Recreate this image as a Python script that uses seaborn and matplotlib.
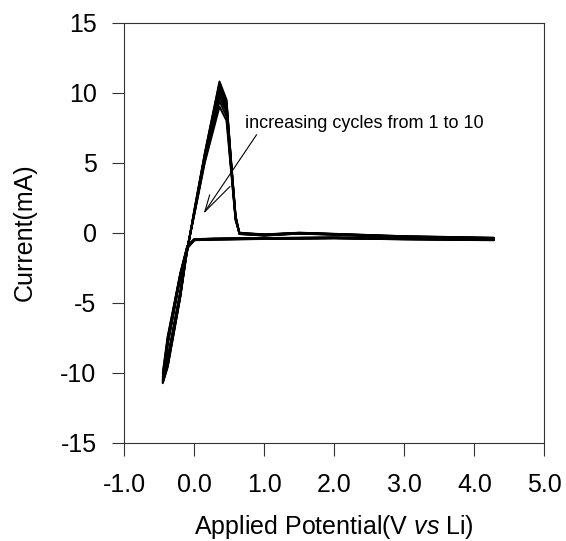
import pandas as pd
import matplotlib
matplotlib.use('Agg')
import matplotlib.pyplot as plt
import seaborn as sns

# Potential sweep (V vs Li): cathodic run 4.28 -> -0.45, then anodic run back to 4.28
potential_cathodic = [4.28, 3.0, 2.0, 1.0, 0.3, 0.0, -0.1, -0.2, -0.3, -0.38, -0.45]
potential_anodic = [-0.38, -0.3, -0.2, -0.12, 0.0, 0.15, 0.36, 0.46, 0.525, 0.59, 0.645, 1.0, 1.5, 2.0, 3.0, 4.28]

current_cathodic = {
    1: [-0.45, -0.40, -0.34, -0.38, -0.42, -0.46, -0.95, -2.9, -5.4, -7.4, -10.0],
    2: [-0.46, -0.41, -0.35, -0.39, -0.43, -0.47, -0.97, -2.9, -5.5, -7.5, -10.1],
    3: [-0.47, -0.41, -0.35, -0.39, -0.43, -0.47, -0.98, -3.0, -5.5, -7.6, -10.3],
    4: [-0.48, -0.42, -0.36, -0.40, -0.44, -0.48, -1.0, -3.0, -5.6, -7.7, -10.4],
    5: [-0.49, -0.43, -0.37, -0.41, -0.45, -0.49, -1.0, -3.0, -5.6, -7.7, -10.5],
    6: [-0.50, -0.44, -0.38, -0.42, -0.46, -0.50, -1.05, -3.1, -5.7, -7.8, -10.55],
    7: [-0.51, -0.45, -0.38, -0.43, -0.47, -0.51, -1.05, -3.1, -5.7, -7.8, -10.6],
    8: [-0.52, -0.46, -0.39, -0.43, -0.48, -0.52, -1.1, -3.1, -5.8, -7.9, -10.65],
    9: [-0.53, -0.47, -0.40, -0.44, -0.49, -0.53, -1.1, -3.2, -5.8, -7.9, -10.7],
    10: [-0.54, -0.48, -0.40, -0.45, -0.50, -0.54, -1.1, -3.2, -5.9, -8.0, -10.75],
}

# Current (mA), anodic part
current_anodic = {
    1: [-8.9, -6.8, -4.2, -1.6, 1.3, 5.0, 9.0, 8.0, 4.4, 0.9, 0.0, -0.12, 0.0, -0.08, -0.25, -0.36],
    2: [-9.0, -6.9, -4.2, -1.6, 1.3, 5.1, 9.4, 8.3, 4.6, 0.9, -0.02, -0.13, -0.01, -0.09, -0.26, -0.37],
    3: [-9.1, -7.0, -4.3, -1.6, 1.4, 5.2, 9.7, 8.6, 4.7, 1.0, -0.03, -0.14, -0.02, -0.10, -0.27, -0.38],
    4: [-9.2, -7.0, -4.3, -1.7, 1.4, 5.3, 10.0, 8.8, 4.8, 1.0, -0.04, -0.15, -0.02, -0.10, -0.28, -0.39],
    5: [-9.3, -7.1, -4.4, -1.7, 1.4, 5.4, 10.2, 9.0, 4.9, 1.0, -0.05, -0.16, -0.03, -0.11, -0.29, -0.40],
    6: [-9.4, -7.2, -4.4, -1.7, 1.5, 5.5, 10.35, 9.1, 5.0, 1.1, -0.06, -0.17, -0.03, -0.12, -0.30, -0.41],
    7: [-9.4, -7.2, -4.5, -1.8, 1.5, 5.5, 10.5, 9.2, 5.0, 1.1, -0.07, -0.18, -0.04, -0.12, -0.31, -0.42],
    8: [-9.5, -7.3, -4.5, -1.8, 1.5, 5.6, 10.6, 9.3, 5.1, 1.1, -0.08, -0.19, -0.05, -0.13, -0.32, -0.43],
    9: [-9.5, -7.3, -4.6, -1.8, 1.6, 5.6, 10.7, 9.4, 5.1, 1.2, -0.09, -0.20, -0.06, -0.14, -0.33, -0.44],
    10: [-9.6, -7.4, -4.6, -1.9, 1.6, 5.7, 10.8, 9.5, 5.2, 1.2, -0.10, -0.21, -0.07, -0.15, -0.34, -0.45],
}

x_ticks = [-1.0, 0.0, 1.0, 2.0, 3.0, 4.0, 5.0]
y_ticks = [-15, -10, -5, 0, 5, 10, 15]

# long table for seaborn
rows = []
for cyc in current_cathodic:
    pts = list(zip(potential_cathodic, current_cathodic[cyc])) + list(zip(potential_anodic, current_anodic[cyc]))
    for i, (e, c) in enumerate(pts):
        rows.append({'cycle': cyc, 'step': i, 'potential': e, 'current': c})
cv_df = pd.DataFrame(rows)

sns.set_style("ticks")
plt.rcParams['font.family'] = ['Liberation Sans', 'DejaVu Sans']
plt.rcParams['axes.unicode_minus'] = False
plt.rcParams['mathtext.fontset'] = 'custom'
plt.rcParams['mathtext.rm'] = 'Liberation Sans'
plt.rcParams['mathtext.it'] = 'Liberation Sans:italic'
plt.rcParams['text.color'] = 'black'
plt.rcParams['axes.labelcolor'] = 'black'
plt.rcParams['xtick.labelcolor'] = 'black'
plt.rcParams['ytick.labelcolor'] = 'black'

fig = plt.figure(figsize=(5.66, 5.41), dpi=100)
ax = fig.add_axes([0.2196, 0.1817, 0.7421, 0.7764])

sns.lineplot(data=cv_df, x='potential', y='current', units='cycle', estimator=None,
             sort=False, color='black', linewidth=1.4, ax=ax)

ax.set_xlim(-1, 5)
ax.set_ylim(-15, 15)
ax.set_xticks(x_ticks)
ax.set_xticklabels([f'{t:.1f}' for t in x_ticks])
ax.set_yticks(y_ticks)
ax.set_yticklabels([str(t) for t in y_ticks])
ax.tick_params(axis='both', direction='out', length=9, width=0.8, color='#333333',
               labelcolor='black', labelsize=18)
ax.tick_params(axis='x', pad=13)
ax.tick_params(axis='y', pad=11)
for s in ax.spines.values():
    s.set_visible(True)
    s.set_linewidth(0.8)
    s.set_color('#333333')

ax.set_xlabel('Applied Potential(V $\\mathit{vs}$ Li)', fontsize=18, color='black')
ax.set_ylabel('Current(mA)', fontsize=18, color='black')
ax.xaxis.set_label_coords(0.5, -0.168)
ax.yaxis.set_label_coords(-0.208, 0.5)

# annotation with hand-drawn style arrow
ax.text(0.72, 7.8, 'increasing cycles from 1 to 10', fontsize=13, ha='left', va='center', color='black')
tip = (0.15, 1.5)
for start in [(0.89, 7.0), (0.51, 3.3), (0.22, 2.7)]:
    ax.annotate('', xy=tip, xytext=start,
                arrowprops=dict(arrowstyle='-', color='black', lw=0.8, shrinkA=0, shrinkB=0))

plt.savefig('out.png', dpi=100)
